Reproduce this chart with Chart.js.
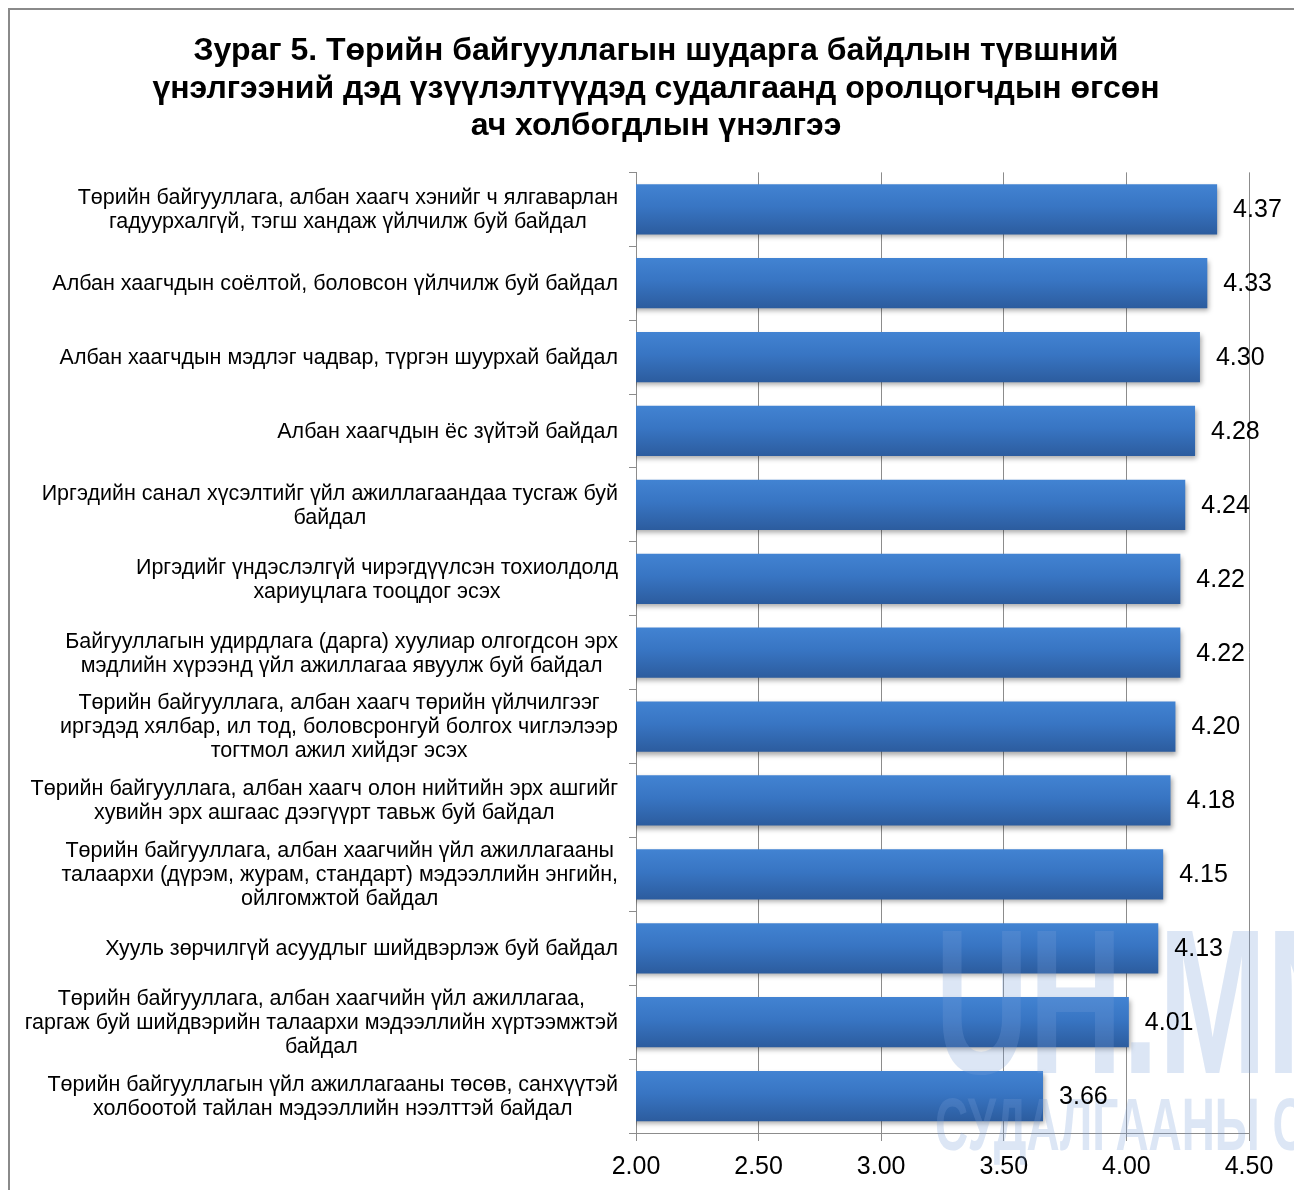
<!DOCTYPE html>
<html>
<head>
<meta charset="utf-8">
<script src="https://cdn.jsdelivr.net/npm/chart.js@4/dist/chart.umd.min.js"></script>
<style>
  html, body { margin: 0; padding: 0; background: #fff; }
</style>
</head>
<body>
<canvas id="chart" width="1294" height="1190"></canvas>
<script>
const titleLines = [
  "Зураг 5. Төрийн байгууллагын шударга байдлын түвшний",
  "үнэлгээний дэд үзүүлэлтүүдэд судалгаанд оролцогчдын өгсөн",
  "ач холбогдлын үнэлгээ",
];

const categories = [
  ["Төрийн байгууллага, албан хаагч хэнийг ч ялгаварлан", "гадуурхалгүй, тэгш хандаж үйлчилж буй байдал"],
  ["Албан хаагчдын соёлтой, боловсон үйлчилж буй байдал"],
  ["Албан хаагчдын мэдлэг чадвар, түргэн шуурхай байдал"],
  ["Албан хаагчдын ёс зүйтэй байдал"],
  ["Иргэдийн санал хүсэлтийг үйл ажиллагаандаа тусгаж буй", "байдал"],
  ["Иргэдийг үндэслэлгүй чирэгдүүлсэн тохиолдолд", "хариуцлага тооцдог эсэх"],
  ["Байгууллагын удирдлага (дарга) хуулиар олгогдсон эрх", "мэдлийн хүрээнд үйл ажиллагаа явуулж буй байдал"],
  ["Төрийн байгууллага, албан хаагч төрийн үйлчилгээг", "иргэдэд хялбар, ил тод, боловсронгуй болгох чиглэлээр", "тогтмол ажил хийдэг эсэх"],
  ["Төрийн байгууллага, албан хаагч олон нийтийн эрх ашгийг", "хувийн эрх ашгаас дээгүүрт тавьж буй байдал"],
  ["Төрийн байгууллага, албан хаагчийн үйл ажиллагааны", "талаархи (дүрэм, журам, стандарт) мэдээллийн энгийн,", "ойлгомжтой байдал"],
  ["Хууль зөрчилгүй асуудлыг шийдвэрлэж буй байдал"],
  ["Төрийн байгууллага, албан хаагчийн үйл ажиллагаа,", "гаргаж буй шийдвэрийн талаархи мэдээллийн хүртээмжтэй", "байдал"],
  ["Төрийн байгууллагын үйл ажиллагааны төсөв, санхүүтэй", "холбоотой тайлан мэдээллийн нээлттэй байдал"],
];

const scores = [4.37, 4.33, 4.30, 4.28, 4.24, 4.22, 4.22, 4.20, 4.18, 4.15, 4.13, 4.01, 3.66];

const xTicks = [2.0, 2.5, 3.0, 3.5, 4.0, 4.5];

const FONT = "'Liberation Sans', Arial, sans-serif";

// white page with the grey outer frame
const frame = {
  id: "frame",
  beforeDraw(chart) {
    const ctx = chart.ctx;
    ctx.save();
    ctx.fillStyle = "#fff";
    ctx.fillRect(0, 0, chart.width, chart.height);
    ctx.strokeStyle = "#8a8a8a";
    ctx.lineWidth = 2;
    ctx.strokeRect(9, 9, 1400, 1400);
    ctx.restore();
  },
};

// vertical gradient + drop shadow on every bar
const barShading = {
  id: "barShading",
  beforeDatasetsDraw(chart) {
    const ctx = chart.ctx;
    chart.getDatasetMeta(0).data.forEach((bar) => {
      const top = bar.y - bar.height / 2;
      const g = ctx.createLinearGradient(0, top, 0, top + bar.height);
      g.addColorStop(0, "#4283d2");
      g.addColorStop(0.45, "#3875c3");
      g.addColorStop(1, "#2c5c9e");
      bar.options.backgroundColor = g;
    });
    ctx.save();
    ctx.shadowColor = "rgba(0,0,0,0.35)";
    ctx.shadowBlur = 5;
    ctx.shadowOffsetX = 2;
    ctx.shadowOffsetY = 3;
  },
  afterDatasetsDraw(chart) {
    const ctx = chart.ctx;
    ctx.restore();

    // faint site watermark over the lower right corner
    ctx.save();
    ctx.fillStyle = "rgba(120,160,215,0.26)";
    ctx.textBaseline = "alphabetic";
    ctx.textAlign = "left";
    ctx.translate(935, 1073);
    ctx.scale(0.63, 1);
    ctx.font = "bold 206px " + FONT;
    ctx.fillText("UH.MN", 0, 0);
    ctx.restore();
    ctx.save();
    ctx.fillStyle = "rgba(120,160,215,0.26)";
    ctx.translate(935, 1150);
    ctx.scale(0.62, 1);
    ctx.font = "bold 74px " + FONT;
    ctx.fillText("СУДАЛГААНЫ С", 0, 0);
    ctx.restore();

    // value labels next to the bars
    ctx.save();
    ctx.fillStyle = "#000";
    ctx.font = "25px " + FONT;
    ctx.textAlign = "left";
    ctx.textBaseline = "middle";
    chart.getDatasetMeta(0).data.forEach((bar, i) => {
      ctx.fillText(scores[i].toFixed(2), bar.x + 16, bar.y + 1);
    });
    ctx.restore();
  },
};

// multi-line category labels: block right aligned, lines centred
const categoryLabels = {
  id: "categoryLabels",
  afterDraw(chart) {
    const ctx = chart.ctx;
    const yScale = chart.scales.y;
    const right = chart.chartArea.left - 18;
    const lineH = 24;
    ctx.save();
    ctx.fillStyle = "#000";
    ctx.font = "21.5px " + FONT;
    ctx.textAlign = "center";
    ctx.textBaseline = "middle";
    categories.forEach((lines, i) => {
      const cy = yScale.getPixelForValue(i);
      const maxW = Math.max(...lines.map((l) => ctx.measureText(l).width));
      const cx = right - maxW / 2;
      lines.forEach((line, j) => {
        ctx.fillText(line, cx, cy + 1 + (j - (lines.length - 1) / 2) * lineH);
      });
    });
    ctx.restore();
  },
};

new Chart(document.getElementById("chart"), {
  type: "bar",
  data: {
    labels: categories,
    datasets: [
      {
        data: scores,
        backgroundColor: () => "#3875c3",
        borderWidth: 0,
        categoryPercentage: 1,
        barPercentage: 0.68,
      },
    ],
  },
  options: {
    indexAxis: "y",
    responsive: false,
    animation: false,
    devicePixelRatio: 1,
    layout: { padding: { top: 0, left: 63, right: 45, bottom: 0 } },
    plugins: {
      legend: { display: false },
      tooltip: { enabled: false },
      title: {
        display: true,
        text: titleLines,
        color: "#000",
        font: { family: FONT, size: 32, weight: "bold", lineHeight: 1.16 },
        padding: { top: 33, bottom: 28 },
      },
    },
    scales: {
      x: {
        min: 2,
        max: 4.5,
        afterBuildTicks: (s) => {
          s.ticks = xTicks.map((v) => ({ value: v }));
        },
        afterFit: (s) => {
          s.height = 57;
        },
        ticks: {
          color: "#000",
          font: { family: FONT, size: 25 },
          padding: 11,
          callback: (v) => Number(v).toFixed(2),
        },
        grid: { color: "#8c8c8c", lineWidth: 1, tickLength: 8 },
        border: { color: "#8c8c8c" },
      },
      y: {
        afterFit: (s) => {
          s.width = 636 - 63;
        },
        ticks: { display: false },
        grid: { drawOnChartArea: false, color: "#8c8c8c", tickLength: 7 },
        border: { color: "#8c8c8c" },
      },
    },
  },
  plugins: [frame, barShading, categoryLabels],
});
</script>
</body>
</html>
